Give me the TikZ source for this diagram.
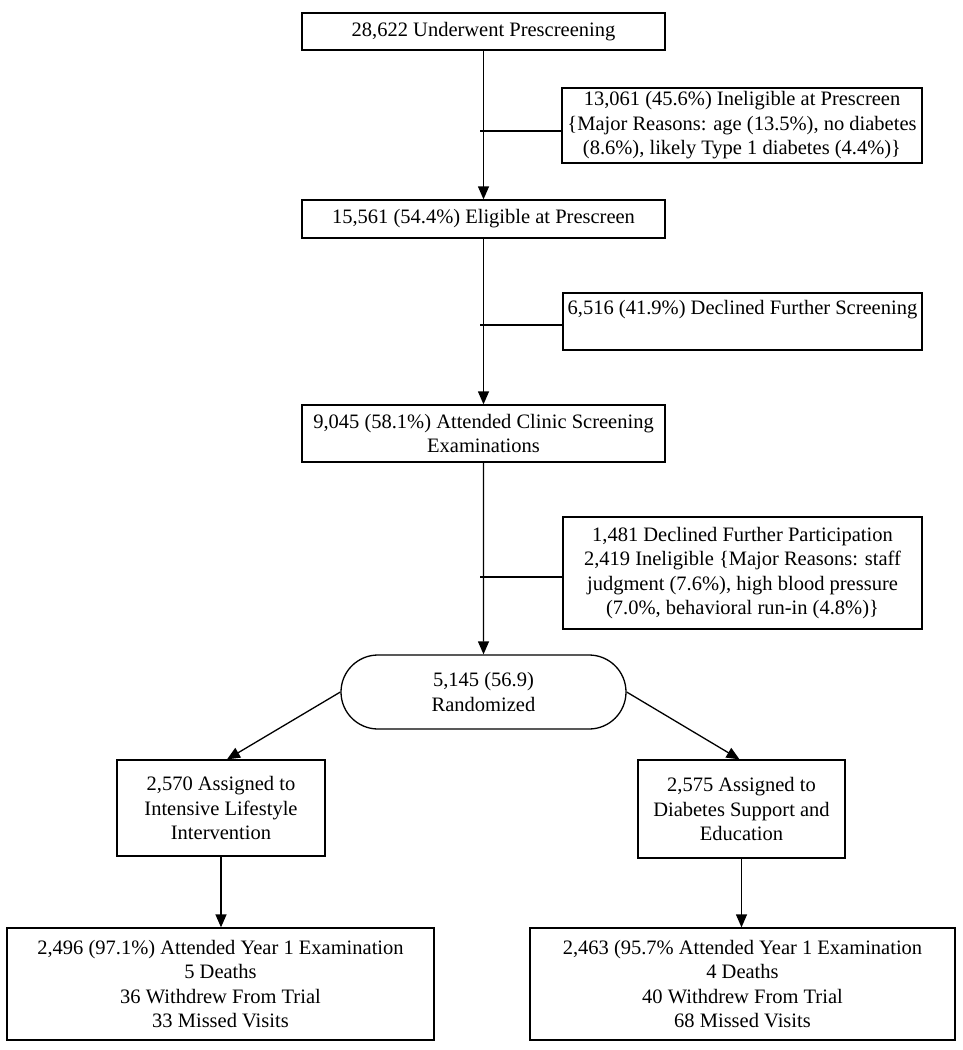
\documentclass[tikz,border=0pt]{standalone}
\usepackage{fontspec}
\setmainfont{Liberation Serif}
\usetikzlibrary{arrows.meta,shapes.misc}
\begin{document}
\begin{tikzpicture}[x=1pt,y=-1pt,
  txt/.style={align=center, inner sep=0pt, font=\fontsize{20.5}{24.5}\selectfont},
  box/.style={txt, draw, line width=1.3pt},
  arr/.style={-{Triangle[length=13pt,width=11pt]}, line width=1.3pt},
  ln/.style={line width=1.3pt}]
\useasboundingbox[fill=white] (0,0) rectangle (963,1050);

\node[box, minimum width=363pt, minimum height=37pt] (b1) at (483.5,31.5) {28,622 Underwent Prescreening};
\node[box, minimum width=360pt, minimum height=75pt] (s1) at (742,125.5) {13,061 (45.6\%) Ineligible at Prescreen\\\{Major Reasons: age (13.5\%), no diabetes\\(8.6\%), likely Type 1 diabetes (4.4\%)\}};
\node[box, minimum width=363pt, minimum height=38pt] (b2) at (483.5,219) {15,561 (54.4\%) Eligible at Prescreen};
\node[box, minimum width=359pt, minimum height=57pt] (s2) at (742.5,321.5) {};
\node[txt] (s2t) at ([yshift=-17pt]s2.north) {6,516 (41.9\%) Declined Further Screening};
\node[box, minimum width=363pt, minimum height=57pt] (b3) at (483.5,433.5) {9,045 (58.1\%) Attended Clinic Screening\\Examinations};
\node[box, minimum width=359pt, minimum height=112pt] (s3) at (742.5,573) {1,481 Declined Further Participation\\2,419 Ineligible \{Major Reasons: staff\\judgment (7.6\%), high blood pressure\\(7.0\%, behavioral run-in (4.8\%)\}};
\node[box, rounded rectangle, minimum width=285pt, minimum height=74pt] (r) at (483.5,692) {5,145 (56.9)\\Randomized};
\node[box, minimum width=208pt, minimum height=96pt] (L) at (221,808) {2,570 Assigned to\\Intensive Lifestyle\\Intervention};
\node[box, minimum width=207pt, minimum height=98pt] (R) at (741.5,809) {2,575 Assigned to\\Diabetes Support and\\Education};
\node[box, minimum width=427pt, minimum height=112pt] (BL) at (220.5,984) {2,496 (97.1\%) Attended Year 1 Examination\\5 Deaths\\36 Withdrew From Trial\\33 Missed Visits};
\node[box, minimum width=425pt, minimum height=112pt] (BR) at (742.5,984) {2,463 (95.7\% Attended Year 1 Examination\\4 Deaths\\40 Withdrew From Trial\\68 Missed Visits};

\draw[arr] (b1) -- (b2);
\draw[arr] (b2) -- (b3);
\draw[arr] (b3) -- (r);
\coordinate (j1) at (480,131);
\coordinate (j2) at (480,325);
\coordinate (j3) at (480,577);
\draw[ln] (j1) -- (j1 -| s1.west);
\draw[ln] (j2) -- (j2 -| s2.west);
\draw[ln] (j3) -- (j3 -| s3.west);
\draw[arr] (r.west) -- ([xshift=6pt]L.north);
\draw[arr] (r.east) -- ([xshift=-2pt]R.north);
\draw[arr] (L.south) -- (L.south |- BL.north);
\draw[arr] (R.south) -- (R.south |- BR.north);
\end{tikzpicture}
\end{document}
